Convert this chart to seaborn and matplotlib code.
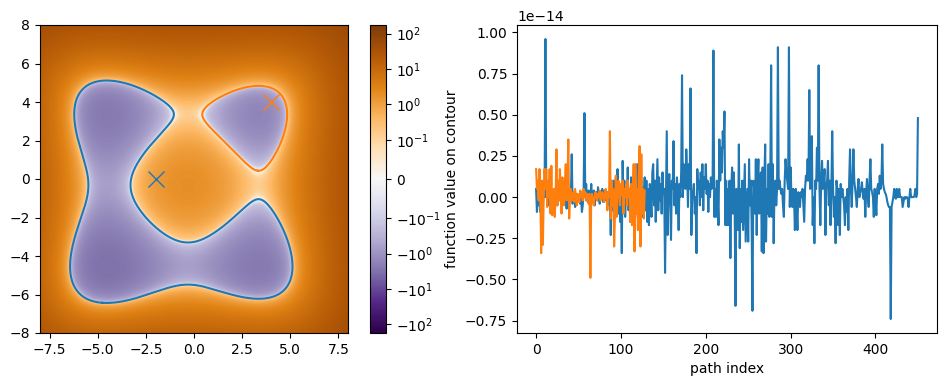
import numpy as np
import matplotlib
matplotlib.use("Agg")
import matplotlib.pyplot as plt
from matplotlib.colors import SymLogNorm
import seaborn as sns
import contourpy

# ---------------- data ----------------
# field parameters (separable double-well surface)
x_wells = (-4.45, 3.45)
y_wells = (-4.45, 3.45)
x_depth = 1.2
y_depth = 1.2
x_tilt = 0.101
y_tilt = 0.101
x_curv = 0.0088
y_curv = 0.0088
grid_lim = 8.0
start_points_x = [-2.0, 4.0]
start_points_y = [0.0, 4.0]
vlim = 175.0

# function values along traced contours (units of 1e-14)
blue_vals = [
    0.05, -0.09, 0.00, -0.05, 0.04, -0.09, 0.00, 0.03, -0.04, 0.06,
    0.00, 0.96, 0.00, 0.04, -0.05, 0.02, 0.00, -0.06, 0.04, -0.04,
    0.00, 0.02, -0.08, 0.03, 0.00, -0.05, 0.06, -0.02, 0.00, 0.03,
    -0.06, 0.00, 0.04, -0.04, 0.02, 0.00, -0.07, 0.05, 0.00, -0.03,
    0.02, 0.00, 0.26, -0.04, 0.00, 0.03, -0.06, 0.00, 0.02, -0.03,
    0.00, 0.01, -0.04, 0.00, -0.09, -0.05, 0.02, 0.51, 0.00, 0.08,
    0.00, -0.03, 0.04, 0.00, -0.02, 0.08, -0.03, 0.00, 0.04, -0.05,
    0.00, 0.03, -0.02, 0.06, 0.00, -0.04, 0.02, 0.00, 0.05, -0.03,
    0.00, 0.04, -0.02, 0.00, 0.03, -0.05, 0.02, 0.00, -0.23, 0.06,
    -0.08, 0.10, -0.05, 0.00, 0.12, 0.02, 0.17, -0.10, 0.05, -0.15,
    0.00, -0.34, 0.22, -0.05, 0.10, -0.12, 0.08, -0.02, 0.18, -0.08,
    0.05, -0.15, 0.12, 0.00, -0.10, 0.08, -0.06, 0.15, -0.04, 0.20,
    -0.12, 0.05, -0.18, 0.02, 0.10, -0.12, 0.06, 0.00, 0.12, -0.08,
    0.10, -0.15, 0.05, -0.17, 0.08, 0.00, -0.12, 0.15, 0.20, -0.05,
    0.10, -0.15, 0.05, 0.23, -0.08, 0.12, -0.02, 0.08, -0.10, 0.15,
    0.02, 0.05, -0.46, 0.00, 0.40, -0.23, 0.05, 0.14, 0.00, -0.26,
    0.10, 0.05, 0.34, -0.05, 0.08, -0.10, 0.12, 0.02, -0.20, 0.08,
    0.00, 0.15, 0.74, 0.00, 0.20, 0.10, 0.05, 0.29, 0.15, -0.06,
    0.20, 0.05, 0.66, -0.23, 0.00, 0.03, 0.08, -0.10, 0.00, -0.34,
    0.17, 0.05, 0.10, -0.05, 0.15, 0.00, 0.20, -0.08, 0.12, 0.05,
    0.20, 0.02, 0.10, -0.09, 0.08, 0.00, 0.12, 0.05, 0.06, 0.89,
    -0.12, 0.05, -0.12, 0.10, 0.00, -0.17, 0.35, 0.10, 0.30, 0.15,
    0.40, 0.30, 0.52, -0.17, 0.10, -0.17, 0.05, -0.17, 0.10, -0.37,
    0.05, 0.18, -0.10, 0.15, -0.05, -0.66, 0.05, 0.00, -0.20, 0.32,
    -0.31, 0.05, -0.15, 0.10, -0.20, 0.00, 0.20, -0.27, -0.10, 0.05,
    -0.27, 0.23, -0.05, 0.10, -0.15, -0.69, 0.10, 0.05, -0.10, 0.23,
    -0.23, 0.10, 0.23, -0.10, 0.05, 0.15, -0.33, 0.18, -0.34, 0.10,
    0.32, -0.27, 0.05, -0.10, 0.20, -0.12, 0.10, 0.80, -0.12, 0.20,
    -0.28, 0.05, 0.10, -0.05, 0.05, 0.91, 0.05, 0.10, 0.05, 0.02,
    0.05, -0.05, -0.12, 0.10, 0.23, 0.15, 0.10, 0.05, 0.91, -0.06,
    0.18, 0.00, -0.06, 0.05, 0.00, -0.20, 0.05, -0.05, -0.20, 0.03,
    0.00, -0.06, 0.03, 0.00, 0.05, -0.05, -0.15, 0.05, 0.13, 0.10,
    0.23, 0.10, 0.65, 0.05, 0.10, 0.37, -0.17, 0.00, -0.28, 0.10,
    0.05, 0.30, 0.10, 0.80, 0.05, -0.17, 0.10, 0.22, 0.05, 0.10,
    0.17, -0.23, 0.05, 0.10, 0.22, -0.05, 0.10, -0.17, 0.05, 0.40,
    0.05, -0.12, 0.00, -0.28, 0.10, 0.05, -0.17, 0.05, -0.23, 0.08,
    0.00, 0.05, 0.00, -0.05, -0.17, 0.00, -0.09, 0.05, -0.20, 0.10,
    0.29, 0.05, -0.06, 0.10, 0.29, 0.10, 0.05, 0.00, -0.06, 0.05,
    0.11, 0.00, 0.03, 0.05, 0.09, 0.02, -0.01, 0.05, -0.12, 0.03,
    0.11, 0.00, -0.06, 0.10, 0.23, 0.05, 0.03, 0.00, -0.12, 0.05,
    -0.01, -0.11, 0.05, 0.08, 0.02, 0.13, 0.05, 0.10, 0.32, 0.08,
    0.05, 0.03, 0.02, 0.00, -0.03, -0.05, -0.06, -0.06, -0.74, -0.06,
    -0.03, 0.00, 0.05, 0.00, -0.01, 0.05, 0.00, 0.00, 0.05, 0.00,
    0.00, 0.00, -0.06, -0.03, 0.00, -0.01, 0.00, 0.00, -0.01, -0.06,
    0.00, 0.05, 0.00, 0.00, 0.00, 0.00, 0.01, 0.05, 0.00, 0.02,
    0.48,
]
orange_vals = [
    0.17, 0.05, 0.10, -0.02, 0.17, 0.00, -0.34, 0.10, -0.29, 0.00,
    0.17, 0.05, 0.17, -0.06, 0.10, 0.00, 0.17, -0.10, 0.19, -0.11,
    -0.08, 0.05, -0.12, 0.00, 0.29, -0.05, 0.10, -0.02, 0.17, 0.05,
    -0.10, 0.12, 0.00, -0.05, 0.10, 0.20, -0.02, 0.10, 0.35, -0.13,
    0.02, 0.05, -0.02, 0.00, 0.03, -0.03, 0.05, 0.00, -0.05, 0.02,
    0.00, -0.03, 0.04, 0.00, 0.03, -0.02, 0.05, 0.00, 0.03, -0.02,
    0.02, 0.00, -0.04, 0.02, -0.49, 0.00, 0.02, -0.02, -0.05, 0.00,
    0.03, 0.00, -0.02, 0.02, 0.00, 0.04, -0.02, 0.00, 0.03, 0.00,
    -0.03, 0.02, 0.05, 0.00, -0.08, 0.03, 0.00, 0.40, -0.13, 0.10,
    -0.05, 0.05, -0.30, -0.10, 0.13, -0.12, 0.00, 0.10, 0.05, -0.05,
    0.08, 0.02, 0.10, -0.10, 0.05, 0.00, 0.08, -0.05, 0.10, 0.00,
    0.05, -0.15, 0.08, -0.17, 0.00, 0.20, -0.33, 0.20, -0.10, 0.05,
    -0.20, 0.12, 0.31, -0.30, 0.26, -0.10, 0.05, -0.13, 0.04,
]


def well(t, wells, depth, tilt, curv):
    a, b = wells
    m = 0.5 * (a + b)
    return curv * (t - a) ** 2 * (t - b) ** 2 - depth + tilt * (t - m)


def field(X, Y):
    return (well(X, x_wells, x_depth, x_tilt, x_curv)
            + well(Y, y_wells, y_depth, y_tilt, y_curv))


# ---------------- figure ----------------
fig = plt.figure(figsize=(9.5, 3.86), dpi=100)
ax1 = fig.add_axes([40 / 950, 53 / 386, 308 / 950, 308 / 386])
cax = fig.add_axes([369.5 / 950, 53 / 386, 16.3 / 950, 308 / 386])
ax2 = fig.add_axes([517 / 950, 53 / 386, 420 / 950, 308 / 386])

g = np.linspace(-grid_lim, grid_lim, 500)
X, Y = np.meshgrid(g, g)
F = field(X, Y)
norm = SymLogNorm(linthresh=0.1, linscale=1.0, vmin=-vlim, vmax=vlim, base=10)
im = ax1.imshow(F, extent=[-grid_lim, grid_lim, -grid_lim, grid_lim],
                origin="lower", cmap="PuOr_r", norm=norm, interpolation="bilinear")
fig.colorbar(im, cax=cax)

gen = contourpy.contour_generator(g, g, F)
for seg in gen.lines(0.0):
    col = "C1" if (seg[:, 0].mean() > 0 and seg[:, 1].mean() > 0) else "C0"
    ax1.plot(seg[:, 0], seg[:, 1], color=col, lw=1.5)

for i, (px, py) in enumerate(zip(start_points_x, start_points_y)):
    ax1.plot(px, py, "x", color=f"C{i}", ms=12, mew=1.0)
ax1.set_xlim(-grid_lim, grid_lim)
ax1.set_ylim(-grid_lim, grid_lim)

blue = np.array(blue_vals) * 1e-14
orange = np.array(orange_vals) * 1e-14
sns.lineplot(x=np.arange(len(blue)), y=blue, ax=ax2, color="C0",
             estimator=None, sort=False, lw=1.5)
sns.lineplot(x=np.arange(len(orange)), y=orange, ax=ax2, color="C1",
             estimator=None, sort=False, lw=1.5)
ax2.set_xlabel("path index")
ax2.set_ylabel("function value on contour")

fig.savefig("out.png", dpi=100)
